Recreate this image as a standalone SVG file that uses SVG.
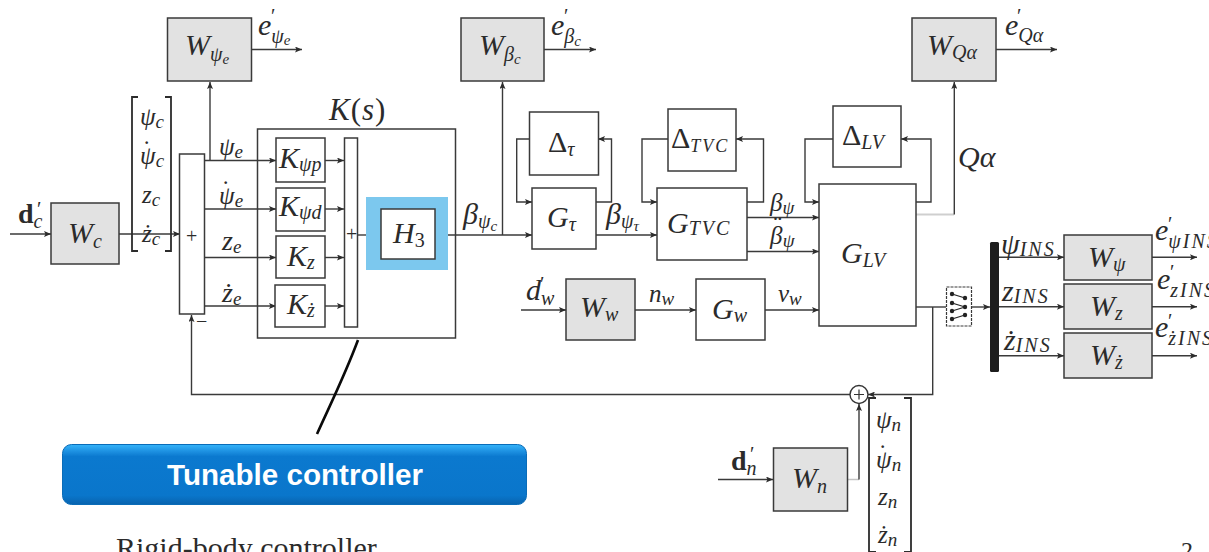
<svg xmlns="http://www.w3.org/2000/svg" width="1209" height="552" viewBox="0 0 1209 552">
<style>
.b{fill:#fff;stroke:#3a3a3a;stroke-width:1.5}
.g{fill:#e2e2e2;stroke:#3a3a3a;stroke-width:1.5}
.c{fill:none;stroke:#3a3a3a;stroke-width:1.4}
.a{marker-end:url(#ah)}
.br{fill:none;stroke:#2c2c2c;stroke-width:1.8}
text{font-family:"Liberation Serif",serif;fill:#2b2b2b}
.m{font-style:italic;font-size:30px}
.l{font-style:italic;font-size:25px}
.s{font-size:20px}
.u{font-size:19px}
.t{font-size:15px}
.w{letter-spacing:2px}
.n{font-style:normal}
.p{font-size:20px;font-style:normal}
</style>
<defs>
<marker id="ah" markerUnits="userSpaceOnUse" markerWidth="8" markerHeight="6" refX="7" refY="3" orient="auto"><path d="M0 0L7 3L0 6L1.500 3Z" fill="#2c2c2c"/></marker>
<linearGradient id="bg" x1="0" y1="0" x2="0" y2="1"><stop offset="0" stop-color="#35b4fa"/><stop offset="0.12" stop-color="#1c8fe0"/><stop offset="0.2" stop-color="#0b79cf"/><stop offset="0.85" stop-color="#0a76cb"/><stop offset="1" stop-color="#0863ae"/></linearGradient>
</defs>
<rect width="1209" height="552" fill="#fff"/>

<g id="connectors">
<path class="c a" d="M10 234H51"/>
<path class="c a" d="M119 234H180"/>
<path class="c a" d="M210 160V82"/>
<path class="c a" d="M203 160.500H276"/>
<path class="c a" d="M203 209H276"/>
<path class="c a" d="M203 257.500H276"/>
<path class="c a" d="M203 306H276"/>
<path class="c a" d="M325 160.500H344"/>
<path class="c a" d="M325 209H344"/>
<path class="c a" d="M325 257.500H344"/>
<path class="c a" d="M325 306H344"/>
<path class="c" d="M357 235H381"/>
<path class="c a" d="M435 235H532"/>
<path class="c a" d="M502.500 235V82"/>
<path class="c a" d="M251 49.500H302"/>
<path class="c a" d="M544 49.500H596"/>
<path class="c a" d="M996 49.500H1057"/>
<path class="c a" d="M529.500 139H516.700V202H532"/>
<path class="c a" d="M596 202H611.500V139H598"/>
<path class="c a" d="M668 139H642V202H657"/>
<path class="c a" d="M747 202H763.500V139H736"/>
<path class="c a" d="M833 139H805V202H819"/>
<path class="c a" d="M916 202H931V139H901"/>
<path class="c a" d="M596 235H657"/>
<path class="c a" d="M747 217.500H819"/>
<path class="c a" d="M747 251.500H819"/>
<path class="c a" d="M521 310H566"/>
<path class="c a" d="M635 310H696"/>
<path class="c a" d="M765 310H819"/>
<path class="c" d="M916 307H946"/>
<path class="c a" d="M971 307H990"/>
<path class="c" style="stroke:#cfcfcf;stroke-width:2" d="M916 214.500H954"/>
<path class="c a" d="M954.300 214.500V82"/>
<path class="c a" d="M999 257.300H1064"/>
<path class="c a" d="M999 306.700H1064"/>
<path class="c a" d="M999 355.700H1064"/>
<path class="c a" d="M1152 257.300H1197"/>
<path class="c a" d="M1152 306.700H1197"/>
<path class="c a" d="M1152 355.700H1197"/>
<path class="c a" d="M932.700 307V394.500H868"/>
<path class="c a" d="M850 394.500H191.500V315"/>
<path class="c a" d="M718 479.500H773"/>
<path class="c" style="stroke:#c4c4c4;stroke-width:1.500" d="M847 479.500H859"/>
<path class="c a" d="M859 479.500V404"/>
<path d="M358 340C345 375 330 405 317 434" fill="none" stroke="#0a0a0a" stroke-width="2.600"/>
</g>

<g id="K-s"><rect class="b" x="257.500" y="129" width="198" height="209" style="fill:none"/><text class="m" x="329" y="120" style="font-size:31px;letter-spacing:1px">K<tspan class="n">(</tspan>s<tspan class="n">)</tspan></text></g>
<g id="W-psi-e"><rect class="g" x="167.500" y="18" width="84" height="63"/><text class="m" x="185" y="55">W<tspan class="s" dy="6">ψ</tspan><tspan class="t" dy="3">e</tspan></text></g>
<g id="e-psi-e"><text class="m" x="258" y="35">e<tspan class="s" dy="8">ψ</tspan><tspan class="t" dy="2">e</tspan></text><text class="p" x="271" y="23">′</text></g>
<g id="W-c"><rect class="g" x="51" y="203" width="68" height="61"/><text class="m" x="68" y="243">W<tspan class="s" dy="5">c</tspan></text></g>
<g id="d-c"><text class="m n" x="18" y="223" style="font-weight:bold;font-size:28px">d<tspan class="s" dy="5" style="font-style:italic;font-weight:normal">c</tspan></text><text class="p" x="37" y="216">′</text></g>
<g id="ref-vector"><path class="br" d="M138 97H132V251H138M165 97H171V251H165"/>
<text class="l" x="140" y="125">ψ<tspan class="u" dy="3">c</tspan></text>
<text class="l" x="140" y="164">ψ<tspan class="n" dx="-13" dy="-6">˙</tspan><tspan class="u" dx="5" dy="9">c</tspan></text>
<text class="l" x="142" y="203">z<tspan class="u" dy="3">c</tspan></text>
<text class="l" x="142" y="242">ż<tspan class="u" dy="3">c</tspan></text></g>
<g id="sum-1"><rect class="b" x="179.500" y="154" width="25" height="160"/><text class="s n" x="186" y="243">+</text><text class="s n" x="196" y="328">−</text></g>
<g id="err-labels">
<text class="l" x="219" y="155">ψ<tspan class="u" dy="3">e</tspan></text>
<text class="l" x="219" y="204">ψ<tspan class="n" dx="-13" dy="-6">˙</tspan><tspan class="u" dx="5" dy="9">e</tspan></text>
<text class="l" x="222" y="250" style="font-size:28px">z<tspan class="u" dy="3">e</tspan></text>
<text class="l" x="222" y="302" style="font-size:28px">ż<tspan class="u" dy="3">e</tspan></text></g>
<g id="K-psi-p"><rect class="b" x="276" y="138" width="49" height="44"/><text class="m" x="279" y="168">K<tspan class="s" dy="3">ψp</tspan></text></g>
<g id="K-psi-d"><rect class="b" x="276" y="188" width="49" height="43"/><text class="m" x="279" y="216">K<tspan class="s" dy="3">ψd</tspan></text></g>
<g id="K-z"><rect class="b" x="276" y="236" width="49" height="42"/><text class="m" x="287" y="266">K<tspan class="s" dy="3">z</tspan></text></g>
<g id="K-zdot"><rect class="b" x="275" y="285" width="50" height="42"/><text class="m" x="287" y="314">K<tspan class="s" dy="3">ż</tspan></text></g>
<g id="sum-2"><rect class="b" x="344.500" y="138" width="13" height="189"/><text class="s n" x="346" y="241">+</text></g>
<g id="H3-highlight"><rect x="366" y="197" width="82" height="73" fill="#7cc8ee"/><rect class="b" x="381" y="209" width="54" height="50"/><text class="m" x="393" y="243">H<tspan class="s n" dy="4">3</tspan></text></g>
<g id="beta-psi-c"><text class="m" x="463" y="224">β<tspan class="s" dy="4">ψ</tspan><tspan class="t" dy="3">c</tspan></text></g>
<g id="W-beta-c"><rect class="g" x="461" y="18" width="83" height="63"/><text class="m" x="479" y="55">W<tspan class="s" dy="6">β</tspan><tspan class="t" dy="3">c</tspan></text></g>
<g id="e-beta-c"><text class="m" x="551" y="35">e<tspan class="s" dy="8">β</tspan><tspan class="t" dy="3">c</tspan></text><text class="p" x="564" y="23">′</text></g>
<g id="Delta-tau"><rect class="b" x="529.500" y="112" width="69" height="63"/><text class="m n" x="548" y="152">Δ<tspan class="s" style="font-style:italic" dy="4">τ</tspan></text></g>
<g id="G-tau"><rect class="b" x="532" y="188" width="64" height="61"/><text class="m" x="547" y="227">G<tspan class="s" dy="4">τ</tspan></text></g>
<g id="beta-psi-tau"><text class="m" x="606" y="224">β<tspan class="s" dy="4">ψ</tspan><tspan class="t" dy="3">τ</tspan></text></g>
<g id="Delta-TVC"><rect class="b" x="668" y="109" width="68" height="62"/><text class="m n" x="671" y="148">Δ<tspan class="s w" style="font-style:italic;font-size:18px" dy="4">TVC</tspan></text></g>
<g id="G-TVC"><rect class="b" x="657" y="188" width="90" height="72"/><text class="m" x="667" y="233">G<tspan class="s w" dy="2">TVC</tspan></text></g>
<g id="Delta-LV"><rect class="b" x="833" y="106" width="68" height="61"/><text class="m n" x="842" y="145">Δ<tspan class="s" style="font-style:italic" dy="4">LV</tspan></text></g>
<g id="G-LV"><rect class="b" x="819" y="184" width="97" height="142"/><text class="m" x="841" y="263">G<tspan class="s" dy="4">LV</tspan></text></g>
<g id="beta-labels"><text class="l" x="770" y="211">β<tspan class="u" dy="3">ψ</tspan></text><text class="l" x="770" y="244">β<tspan class="n" dx="-9" dy="-10">¨</tspan><tspan class="u" dx="1" dy="13">ψ</tspan></text></g>
<g id="d-w"><text class="m" x="526" y="300">d<tspan class="s" dy="5">w</tspan></text><text class="p" x="540" y="291">′</text></g>
<g id="W-w"><rect class="g" x="566" y="279" width="69" height="61"/><text class="m" x="580" y="317">W<tspan class="s" dy="4">w</tspan></text></g>
<g id="n-w"><text class="l" x="649" y="302">n<tspan class="u" dy="3">w</tspan></text></g>
<g id="G-w"><rect class="b" x="696" y="279" width="69" height="61"/><text class="m" x="712" y="319">G<tspan class="s" dy="3">w</tspan></text></g>
<g id="v-w"><text class="l" x="778" y="302">v<tspan class="u" dy="3">w</tspan></text></g>
<g id="W-Q-alpha"><rect class="g" x="912" y="18" width="84" height="63"/><text class="m" x="927" y="55">W<tspan class="s" dy="4">Qα</tspan></text></g>
<g id="e-Q-alpha"><text class="m" x="1005" y="35">e<tspan class="s" dy="7">Qα</tspan></text><text class="p" x="1017" y="23">′</text></g>
<g id="Q-alpha-label"><text class="m" x="958" y="167">Qα</text></g>
<g id="switch"><rect x="946.500" y="287" width="25" height="39" fill="#fff" stroke="#3a3a3a" stroke-width="1.200" stroke-dasharray="3 1"/>
<path d="M952 294L965 298M952 303L965 307M952 311L965 307M952 319L965 315" stroke="#222" stroke-width="1.200" fill="none"/>
<g fill="#222"><circle cx="952" cy="294" r="2.200"/><circle cx="952" cy="303" r="2.200"/><circle cx="952" cy="311" r="2.200"/><circle cx="952" cy="319" r="2.200"/><circle cx="965" cy="298" r="2.200"/><circle cx="965" cy="307" r="2.200"/><circle cx="965" cy="315" r="2.200"/></g></g>
<g id="bus"><rect x="990" y="242" width="9" height="130" rx="1.500" fill="#1d1d1d"/></g>
<g id="ins-labels"><text class="m" x="1001" y="254">ψ<tspan class="s w" dy="2">INS</tspan></text><text class="m" x="1002" y="301">z<tspan class="s w" dy="2">INS</tspan></text><text class="m" x="1004" y="350">ż<tspan class="s w" dy="2">INS</tspan></text></g>
<g id="W-psi"><rect class="g" x="1064" y="235" width="88" height="45"/><text class="m" x="1088" y="267">W<tspan class="s" dy="4">ψ</tspan></text></g>
<g id="W-z"><rect class="g" x="1064" y="284" width="88" height="45"/><text class="m" x="1090" y="316">W<tspan class="s" dy="4">z</tspan></text></g>
<g id="W-zdot"><rect class="g" x="1064" y="333" width="88" height="45"/><text class="m" x="1090" y="365">W<tspan class="s" dy="4">ż</tspan></text></g>
<g id="e-ins"><text class="m" x="1155" y="240">e<tspan class="s w" dy="8">ψINS</tspan></text><text class="p" x="1168" y="231">′</text>
<text class="m" x="1157" y="289">e<tspan class="s w" dy="8">zINS</tspan></text><text class="p" x="1170" y="279">′</text>
<text class="m" x="1155" y="337">e<tspan class="s w" dy="8">żINS</tspan></text><text class="p" x="1168" y="328">′</text></g>
<g id="sum-circle"><circle cx="859" cy="394.500" r="9" fill="#fff" stroke="#333" stroke-width="1.400"/><path d="M854 394.500H864M859 389.500V399.500" stroke="#333" stroke-width="1.200"/></g>
<g id="W-n"><rect class="g" x="773.500" y="448" width="74" height="63"/><text class="m" x="792" y="488">W<tspan class="s" dy="5">n</tspan></text></g>
<g id="d-n"><text class="m n" x="731" y="470" style="font-weight:bold;font-size:28px">d<tspan class="s" dy="5" style="font-style:italic;font-weight:normal">n</tspan></text><text class="p" x="750" y="461">′</text></g>
<g id="noise-vector"><path class="br" d="M876 398H869V552H876M904 398H911V552H904"/>
<text class="l" x="876" y="428">ψ<tspan class="u" dy="3">n</tspan></text>
<text class="l" x="876" y="468">ψ<tspan class="n" dx="-13" dy="-6">˙</tspan><tspan class="u" dx="5" dy="9">n</tspan></text>
<text class="l" x="878" y="505">z<tspan class="u" dy="3">n</tspan></text>
<text class="l" x="878" y="543">ż<tspan class="u" dy="3">n</tspan></text></g>
<g id="tunable"><rect x="62.500" y="444.500" width="464" height="60" rx="9" fill="url(#bg)" stroke="#0a6cb8"/><text x="295" y="485" text-anchor="middle" style="font-family:'Liberation Sans',sans-serif;font-weight:bold;font-size:29.600px;fill:#fff">Tunable controller</text></g>
<text x="116" y="558" style="font-size:30px">Rigid-body controller</text>
<text x="1181" y="558" style="font-size:24px">2</text>
</svg>
